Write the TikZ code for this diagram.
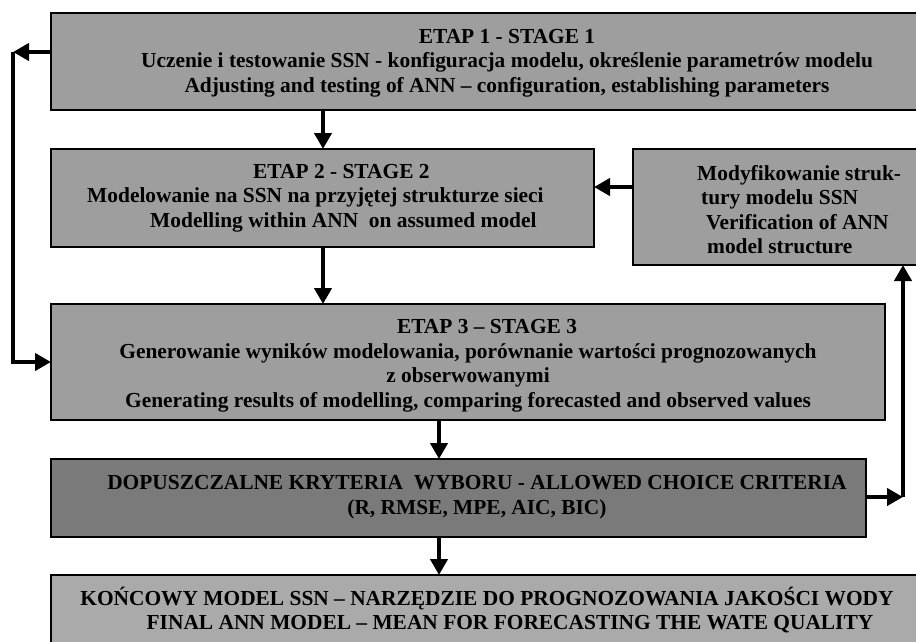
\documentclass[tikz,border=0pt]{standalone}
\usepackage{fontspec}
\setmainfont{Liberation Serif}
\usetikzlibrary{arrows.meta,positioning}
\definecolor{boxgray}{RGB}{158,158,158}
\definecolor{darkgray}{RGB}{122,122,122}
\definecolor{lightgray}{RGB}{170,170,170}
\tikzset{
  stagebox/.style={draw=black,line width=1.6pt,fill=boxgray},
  txt/.style={font=\bfseries\fontsize{21.4}{24.5}\selectfont,align=center,inner sep=0pt},
  flow/.style={line width=4pt,-{Triangle[length=16pt,width=17pt]}}
}
\begin{document}
\begin{tikzpicture}[x=1pt,y=-1pt]
\useasboundingbox (0,0) rectangle (916,641);
% boxes
\path[stagebox] (51,13) rectangle (925,110);
\coordinate (b1s) at (323,110);
\path[stagebox] (51,149) rectangle (594,247);
\coordinate (b2n) at (323,149);
\coordinate (b2s) at (323,247);
\coordinate (b2e) at (594,187);
\path[stagebox] (633,149) rectangle (925,265);
\coordinate (rbw) at (633,187);
\coordinate (rbs) at (903,265);
\path[stagebox] (51,304) rectangle (885,420);
\coordinate (b3n) at (323,304);
\coordinate (b3s) at (439,420);
\coordinate (b3w) at (51,362);
\path[stagebox,fill=darkgray] (51,459) rectangle (866,537);
\coordinate (b4n) at (439,459);
\coordinate (b4s) at (439,537);
\coordinate (b4e) at (866,497);
\path[stagebox,fill=lightgray] (51,575) rectangle (925,655);
\coordinate (b5n) at (439,575);
% texts
\node[txt] (t1) at (507,63) {ETAP 1 - STAGE 1\\Uczenie i testowanie SSN - konfiguracja modelu, określenie parametrów modelu\\Adjusting and testing of ANN – configuration, establishing parameters};
\node[txt,align=left,anchor=north west] (t2) at (87,164) {\hspace*{166pt}ETAP 2 - STAGE 2\\Modelowanie na SSN na przyjętej strukturze sieci\\\hspace*{63pt}Modelling within ANN\ \ on assumed model};
\node[txt,align=left,anchor=north west] (t2r) at (697,165) {Modyfikowanie struk-\\\hspace*{4pt}tury modelu SSN\\\hspace*{9pt}Verification of ANN\\\hspace*{10pt}model structure};
\node[txt] (t3) at (468,366) {\hspace*{38pt}ETAP 3 – STAGE 3\\Generowanie wyników modelowania, porównanie wartości prognozowanych\\z obserwowanymi\\Generating results of modelling, comparing forecasted and observed values};
\node[txt] (t4) at (477,497) {DOPUSZCZALNE KRYTERIA\ \ WYBORU - ALLOWED CHOICE CRITERIA\\(R, RMSE, MPE, AIC, BIC)};
\node[txt] (t5) at (487,610) {KOŃCOWY MODEL SSN – NARZĘDZIE DO PROGNOZOWANIA JAKOŚCI WODY\\\hspace*{46pt}FINAL ANN MODEL – MEAN FOR FORECASTING THE WATE QUALITY};
% connectors
\coordinate (c1) at (13,52);
\coordinate (c1a) at (51,52);
\coordinate (c2) at (13,362);
\coordinate (c3) at (903,497);
\draw[flow] (c1a) -- (c1);
\draw[flow] (c1) -- (c2) -- (b3w);
\draw[flow] (b1s) -- (b2n);
\draw[flow] (b2s) -- (b3n);
\draw[flow] (rbw) -- (b2e);
\draw[flow] (b3s) -- (b4n);
\draw[flow] (b4s) -- (b5n);
\draw[flow] (b4e) -- (c3);
\draw[flow] (c3) -- (rbs);
\end{tikzpicture}
\end{document}
